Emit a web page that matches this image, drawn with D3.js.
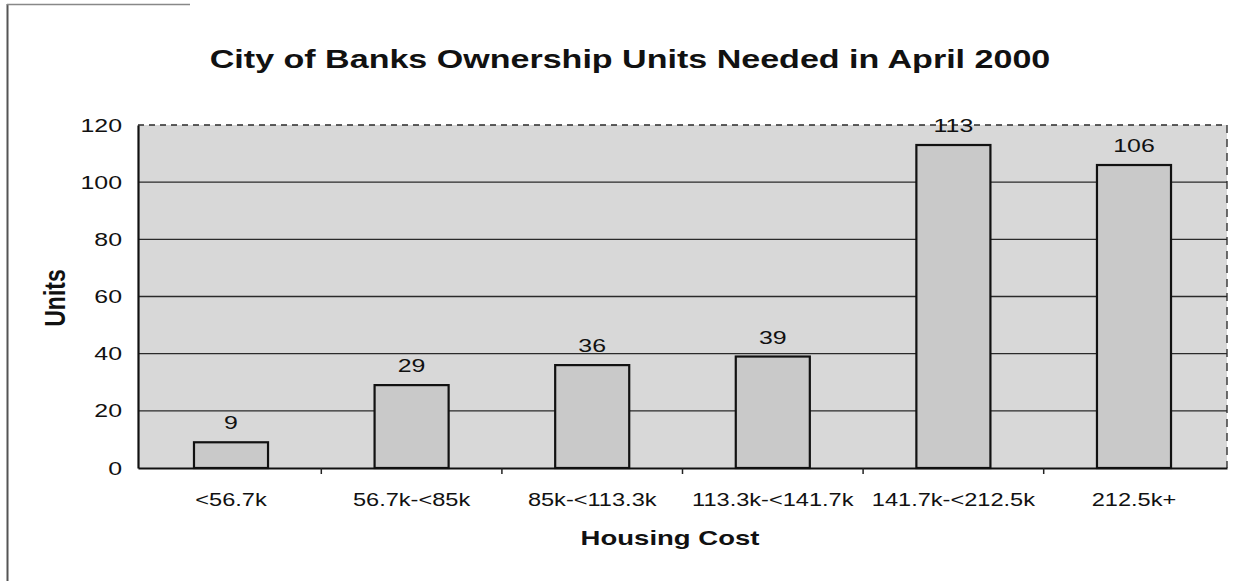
<!DOCTYPE html>
<html><head><meta charset="utf-8">
<script src="https://cdn.jsdelivr.net/npm/d3@7"></script>
<style>body{margin:0;background:#fff}svg{display:block}text{font-family:"Liberation Sans",Arial,sans-serif}</style>
</head><body><svg id="c" width="1246" height="581"></svg>
<script>
const categories = ["<56.7k","56.7k-<85k","85k-<113.3k","113.3k-<141.7k","141.7k-<212.5k","212.5k+"];
const units = [9,29,36,39,113,106];
const yTicks = [0,20,40,60,80,100,120];
const title = "City of Banks Ownership Units Needed in April 2000";

const SX = 1.31; // horizontal stretch of the scanned text
const svg = d3.select("#c");
const m = {l:138, r:1227, t:125, b:468};
const x = d3.scaleBand().domain(categories).range([m.l, m.r]).paddingInner(0.59).paddingOuter(0.31);
const y = d3.scaleLinear().domain([0,120]).range([m.b, m.t]);

function stretchedText(px, py, str, opts) {
  return svg.append("text")
    .attr("transform", `translate(${px},${py}) scale(${SX},1)`)
    .attr("text-anchor", opts.anchor || "middle")
    .attr("font-size", opts.size).attr("font-weight", opts.weight || "normal")
    .attr("fill", "#111").text(str);
}

// outer frame
svg.append("line").attr("x1",7.5).attr("x2",7.5).attr("y1",4).attr("y2",581).attr("stroke","#555").attr("stroke-width",2);
svg.append("line").attr("x1",7).attr("x2",190).attr("y1",4.5).attr("y2",4.5).attr("stroke","#888").attr("stroke-width",1.5);

// plot background
svg.append("rect").attr("x",m.l).attr("y",m.t).attr("width",m.r-m.l).attr("height",m.b-m.t).attr("fill","#d8d8d8");
// right border (dashed)
svg.append("line").attr("x1",m.r).attr("x2",m.r).attr("y1",m.t).attr("y2",m.b)
  .attr("stroke","#333").attr("stroke-width",1.4).attr("stroke-dasharray","8,6");

// gridlines
svg.append("g").selectAll("line").data(yTicks.filter(d=>d>0)).join("line")
  .attr("x1",m.l).attr("x2",m.r).attr("y1",d=>y(d)).attr("y2",d=>y(d))
  .attr("stroke","#2a2a2a").attr("stroke-width",1.4).attr("stroke-dasharray",d=>d===120?"6,5":null);

// bars
svg.append("g").selectAll("rect").data(units).join("rect")
  .attr("x",(d,i)=>x(categories[i])).attr("width",x.bandwidth())
  .attr("y",d=>y(d)).attr("height",d=>y(0)-y(d))
  .attr("fill","#c9c9c9").attr("stroke","#111").attr("stroke-width",2.2);

// value labels
units.forEach((d,i)=>{
  stretchedText(x(categories[i])+x.bandwidth()/2, y(d)-13, d, {size:19});
});

// axes
const yAxis = d3.axisLeft(y).tickValues(yTicks).tickSize(0).tickPadding(16);
const gy = svg.append("g").attr("transform",`translate(${m.l},0)`).call(yAxis);
gy.select(".domain").attr("stroke","#111").attr("stroke-width",2.2);
gy.selectAll("text").attr("font-size",19).attr("fill","#111")
  .attr("x",0).attr("transform",`translate(-16,0) scale(${SX},1)`);

const xAxis = d3.axisBottom(x).tickSize(0).tickPadding(25);
const gx = svg.append("g").attr("transform",`translate(0,${m.b})`).call(xAxis);
gx.select(".domain").attr("stroke","#111").attr("stroke-width",2.2);
gx.selectAll("text").attr("font-size",18).attr("fill","#111").attr("transform",`scale(${SX},1)`);

// small tick marks between categories
const step = x.step();
svg.append("g").selectAll("line").data(categories.slice(1)).join("line")
  .attr("x1",d=>x(d)-(step-x.bandwidth())/2).attr("x2",d=>x(d)-(step-x.bandwidth())/2)
  .attr("y1",m.b).attr("y2",m.b+6).attr("stroke","#222").attr("stroke-width",1.5);

// titles
stretchedText(630, 68, title, {size:26, weight:"bold"});
stretchedText(670, 545, "Housing Cost", {size:21, weight:"bold"});
svg.append("text").attr("transform",`translate(65,298) scale(${SX},1) rotate(-90)`)
  .attr("text-anchor","middle").attr("font-size",23).attr("font-weight","bold").attr("fill","#111").text("Units");
</script></body></html>
